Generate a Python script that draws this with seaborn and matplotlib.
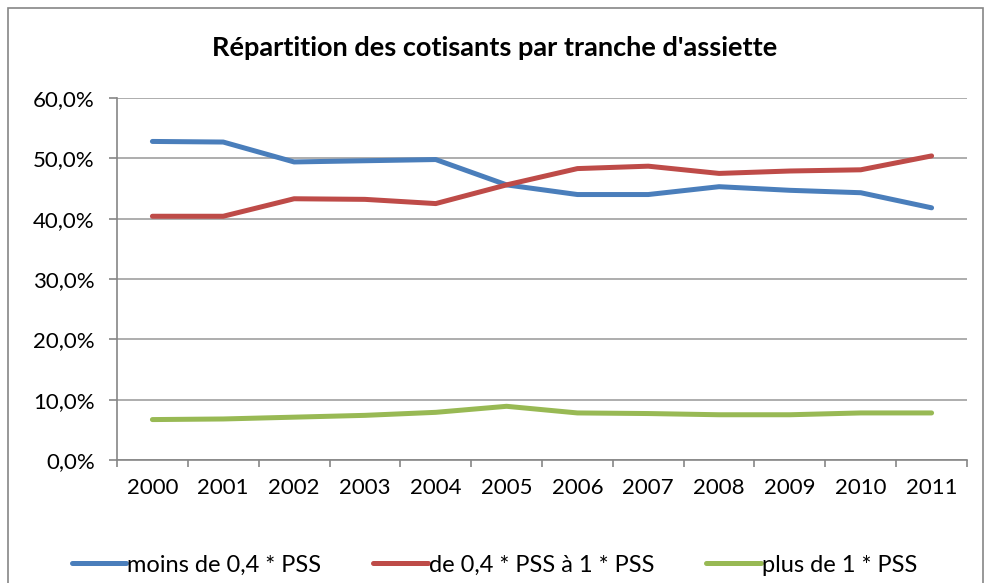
import pandas as pd
import seaborn as sns
import matplotlib.pyplot as plt
from matplotlib.patches import Rectangle
from matplotlib.ticker import FuncFormatter, FixedLocator

# données
annees = ['2000', '2001', '2002', '2003', '2004', '2005', '2006', '2007', '2008', '2009', '2010', '2011']
moins_04 = [52.8, 52.7, 49.4, 49.6, 49.8, 45.6, 44.0, 44.0, 45.3, 44.7, 44.3, 41.8]
de_04_a_1 = [40.4, 40.4, 43.3, 43.2, 42.5, 45.6, 48.3, 48.7, 47.5, 47.9, 48.1, 50.4]
plus_1 = [6.7, 6.8, 7.1, 7.4, 7.9, 8.9, 7.8, 7.7, 7.5, 7.5, 7.8, 7.8]
series = ['moins de 0,4 * PSS', 'de 0,4 * PSS à 1 * PSS', 'plus de 1 * PSS']
couleurs = ['#4a7ebb', '#be4b48', '#98b954']

df = pd.DataFrame({
    'annee': list(range(len(annees))) * 3,
    'valeur': moins_04 + de_04_a_1 + plus_1,
    'serie': [series[0]] * 12 + [series[1]] * 12 + [series[2]] * 12,
})

sns.set_style('white')
plt.rcParams['font.family'] = ['Lato', 'DejaVu Sans']
plt.rcParams['text.color'] = 'black'
plt.rcParams['xtick.labelcolor'] = 'black'
plt.rcParams['ytick.labelcolor'] = 'black'

fig = plt.figure(figsize=(9.89, 5.83), dpi=100)
ax = fig.add_axes([117 / 989, 1 - 460 / 583, 850 / 989, 362 / 583])

sns.lineplot(data=df, x='annee', y='valeur', hue='serie', palette=couleurs,
             linewidth=3.6, ax=ax, solid_capstyle='round')

ax.set_xlim(-0.5, 11.5)
ax.set_ylim(0, 60)
ax.set_yticks(range(0, 61, 10))
ax.yaxis.set_major_formatter(FuncFormatter(lambda v, p: f'{v:.1f}%'.replace('.', ',')))
ax.set_xticks(range(12))
ax.set_xticklabels(annees)
ax.xaxis.set_minor_locator(FixedLocator([i - 0.5 for i in range(13)]))
ax.tick_params(axis='x', which='major', length=0, labelsize=16, pad=13, labelcolor='black')
ax.tick_params(axis='x', which='minor', length=5, color='#868686', width=1.2, direction='out', bottom=True)
ax.tick_params(axis='y', length=6, color='#868686', width=1.2, direction='out', left=True,
               labelsize=16, pad=10, labelcolor='black')
ax.grid(axis='y', color='#a0a0a0', linewidth=1.2)
ax.set_axisbelow(True)
for s in ['top', 'right']:
    ax.spines[s].set_visible(False)
for s in ['left', 'bottom']:
    ax.spines[s].set_color('#868686')
    ax.spines[s].set_linewidth(1.2)
ax.set_xlabel('')
ax.set_ylabel('')

ax.legend(loc='center', bbox_to_anchor=(0.5, 18 / 583), bbox_transform=fig.transFigure,
          ncol=3, frameon=False, fontsize=17, handlelength=2.3, handletextpad=0.05,
          columnspacing=2.2, labelcolor='black')

fig.suptitle("Répartition des cotisants par tranche d'assiette", fontsize=19.5,
             fontweight='bold', y=1 - 48 / 583, va='center', color='black')

fig.patches.append(Rectangle((8 / 989, -0.05), 975 / 989, 1.05 - 8 / 583, transform=fig.transFigure,
                             fill=False, edgecolor='#868686', linewidth=1.2))

fig.savefig('out.png', dpi=100)
